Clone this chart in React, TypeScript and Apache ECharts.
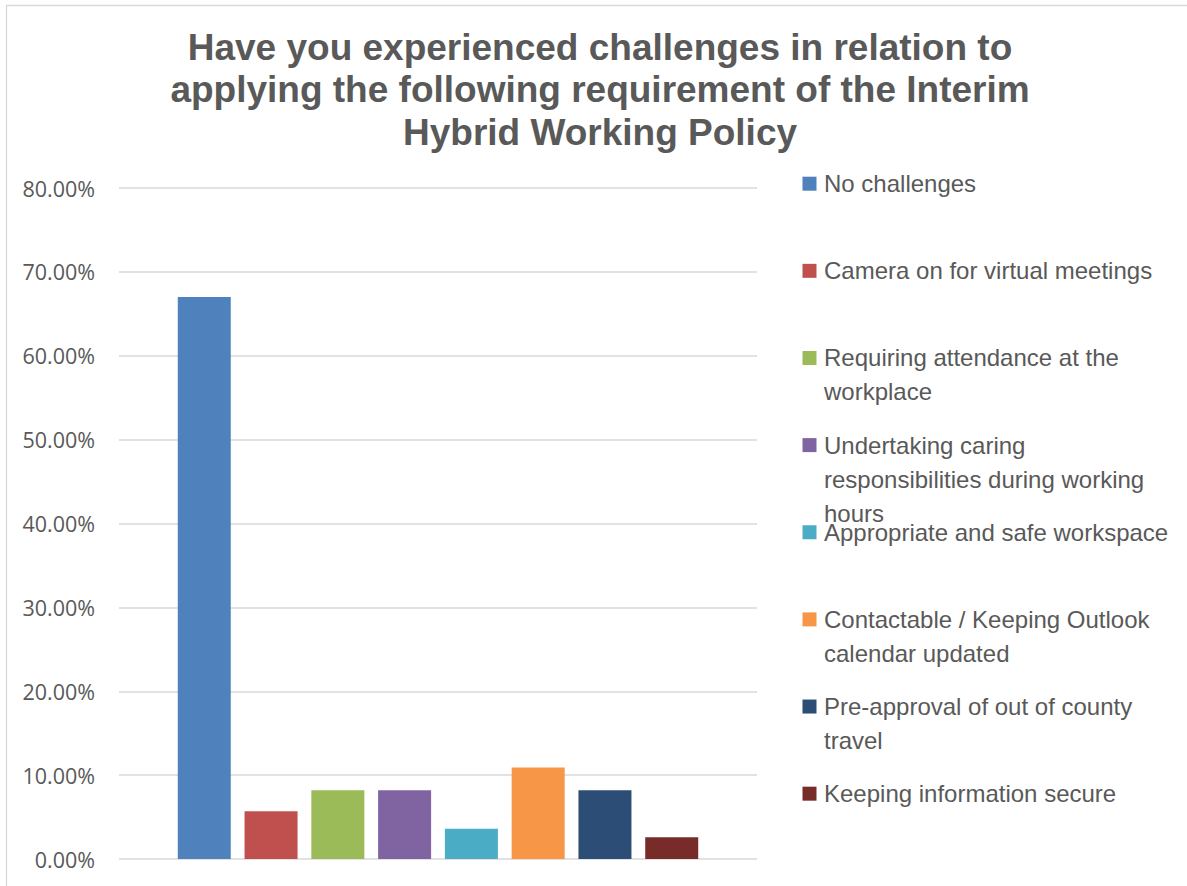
import React, { useEffect, useRef } from 'react';
import * as echarts from 'echarts';

const titleLines = [
  'Have you experienced challenges in relation to',
  'applying the following requirement of the Interim',
  'Hybrid Working Policy',
];
const categories = [''];
const seriesNames = [
  'No challenges',
  'Camera on for virtual meetings',
  'Requiring attendance at the workplace',
  'Undertaking caring responsibilities during working hours',
  'Appropriate and safe workspace',
  'Contactable / Keeping Outlook calendar updated',
  'Pre-approval of out of county travel',
  'Keeping information secure',
];
const seriesValues = [67.0, 5.7, 8.2, 8.2, 3.6, 10.9, 8.2, 2.6];
const seriesColors = ['#4F81BD', '#C0504D', '#9BBB59', '#8064A2', '#4BACC6', '#F79646', '#2C4D75', '#772C2A'];
const yMin = 0;
const yMax = 80;
const yInterval = 10;

export default function App() {
  const ref = useRef<HTMLDivElement>(null);
  useEffect(() => {
    const chart = echarts.init(ref.current!, null, { renderer: 'svg' });
    const legendFirst = 183.7;
    const legendStep = 87.14;
    const textColor = '#595959';
    const legendGraphics: any[] = [];
    seriesNames.forEach((name, i) => {
      const cy = legendFirst + i * legendStep;
      legendGraphics.push({
        type: 'rect',
        shape: { x: 802.5, y: cy - 7, width: 14, height: 14 },
        style: { fill: seriesColors[i] },
      });
      legendGraphics.push({
        type: 'text',
        x: 824,
        y: cy - 17,
        style: {
          text: name,
          width: 355,
          overflow: 'break',
          fontSize: 24,
          fontFamily: '"Liberation Sans", Arial, sans-serif',
          fill: textColor,
          lineHeight: 34,
          verticalAlign: 'top',
          align: 'left',
        },
      });
    });
    chart.setOption({
      animation: false,
      backgroundColor: '#ffffff',
      title: {
        text: titleLines.join('\n'),
        left: 600,
        top: 26,
        textAlign: 'center',
        padding: 0,
        textStyle: {
          fontSize: 37,
          fontWeight: 'bold',
          fontFamily: '"Liberation Sans", Arial, sans-serif',
          color: textColor,
          lineHeight: 42.5,
        },
      },
      grid: { left: 119, top: 188, width: 638, height: 671, containLabel: false },
      xAxis: {
        type: 'category',
        data: categories,
        axisLine: { show: false },
        axisTick: { show: false },
        axisLabel: { show: false },
      },
      yAxis: {
        type: 'value',
        min: yMin,
        max: yMax,
        interval: yInterval,
        axisLine: { show: false },
        axisTick: { show: false },
        splitLine: { lineStyle: { color: '#d9d9d9', width: 1.5 } },
        axisLabel: {
          margin: 24,
          fontSize: 21.5,
          fontFamily: '"Open Sans", sans-serif',
          color: textColor,
          formatter: (v: number) => v.toFixed(2) + '%',
        },
      },
      series: seriesNames.map((name, i) => ({
        type: 'bar',
        name,
        data: [seriesValues[i]],
        barWidth: 53,
        barGap: '26%',
        itemStyle: { color: seriesColors[i] },
      })),
      graphic: [
        {
          type: 'rect',
          shape: { x: 6.5, y: 5.5, width: 1200, height: 900 },
          style: { fill: 'none', stroke: '#d9d9d9', lineWidth: 1.3 },
          silent: true,
        },
        ...legendGraphics,
      ],
    });
    return () => chart.dispose();
  }, []);
  return (
    <div
      ref={ref}
      style={{ position: 'absolute', left: 0, top: 0, width: 1187, height: 886, background: '#fff' }}
    />
  );
}
